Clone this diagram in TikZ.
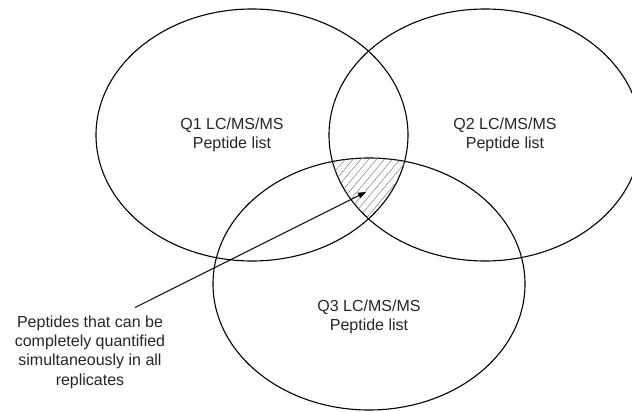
\documentclass[tikz,border=0pt]{standalone}
\usepackage{fontspec}
\setmainfont{Liberation Sans}
\usetikzlibrary{shapes.geometric,patterns.meta,arrows.meta}

\begin{document}
\begin{tikzpicture}[x=1pt, y=-1pt, node distance=233pt,
  set/.style={draw, ellipse, line width=1.1pt, minimum width=312pt, minimum height=252pt, inner sep=0pt},
  lbl/.style={align=center, text=black!85, font=\fontsize{16}{19.3}\selectfont}]

  \useasboundingbox (0,0) rectangle (632,412);

  % Sets
  \node[set] (S1) at (252,135) {};
  \node[set, right of=S1] (S2) {};
  \node[set] (S3) at (369,284) {};

  % Common region
  \begin{scope}
    \clip (S1.center) ellipse [x radius=156pt, y radius=126pt];
    \clip (S2.center) ellipse [x radius=156pt, y radius=126pt];
    \fill[pattern={Lines[angle=50, distance=6pt, line width=0.5pt]}, pattern color=gray] (S3.center) ellipse [x radius=156pt, y radius=126pt];
  \end{scope}

  % Labels
  \node[lbl] (T1) at (232,135) {Q1 LC/MS/MS\\Peptide list};
  \node[lbl] (T2) at (505,135) {Q2 LC/MS/MS\\Peptide list};
  \node[lbl] (T3) at (369,317) {Q3 LC/MS/MS\\Peptide list};
  \node[lbl] (note) at (90,352) {Peptides that can be\\completely quantified\\simultaneously in all\\replicates};

  % Arrow
  \coordinate (tip) at (366,192);
  \draw[-{Triangle[length=8pt, width=6pt]}, line width=1pt] ([xshift=45pt, yshift=4.5pt]note.north) -- (tip);

\end{tikzpicture}
\end{document}
